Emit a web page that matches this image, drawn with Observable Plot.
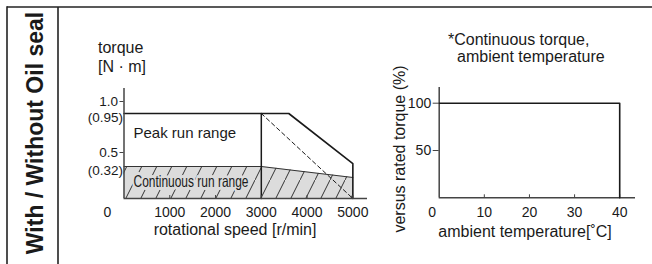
<!DOCTYPE html>
<html><head><meta charset="utf-8">
<script src="https://cdn.jsdelivr.net/npm/d3@7"></script>
<script src="https://cdn.jsdelivr.net/npm/@observablehq/plot@0.6"></script>
<style>
body{margin:0;background:#fff;}
#wrap{position:relative;width:652px;height:264px;overflow:hidden;background:#fff;}
#wrap svg{position:absolute;top:0;}
</style></head><body><div id="wrap"></div>
<script>
// ---- left chart: torque vs rotational speed ----
const speedTicks = [1000, 2000, 3000, 4000, 5000];
const torqueTicks = [0.5, 1.0];
const torqueNotes = [0.95, 0.32];
const peakSpeed = [0, 3600, 5000, 5000];
const peakTorque = [0.95, 0.95, 0.36, 0];
const contSpeed = [0, 3000, 5000];
const contTorque = [0.32, 0.32, 0.21];
const ratedSpeed = [3000, 3000];
const ratedTorque = [0.95, 0];
const dashSpeed = [3000, 5000];
const dashTorque = [0.95, 0];
// ---- right chart: continuous torque vs ambient temperature ----
const tempTicks = [10, 20, 30, 40];
const pctTicks = [50, 100];
const tempVals = [0, 40, 40];
const pctVals = [100, 100, 0];

const FONT = "Liberation Sans, Arial, Helvetica, sans-serif";
const zip = (xs, ys) => xs.map((x, i) => ({x, y: ys[i]}));
const INK = "#1a1a1a", AX = "#444";

// the torque axis of the original is schematic (not linear): piecewise transform
const torqueWarp = d3.scaleLinear().domain([0, 0.32, 0.5, 0.95, 1.0, 1.07]).range([0, 32, 45, 85, 96, 110]);

const left = Plot.plot({
  width: 380, height: 264,
  marginLeft: 123.5, marginRight: 13, marginTop: 88, marginBottom: 66,
  style: {background: "transparent", fontFamily: FONT, color: INK, overflow: "visible"},
  x: {domain: [0, 5320]},
  y: {domain: [0, 110], transform: torqueWarp},
  marks: [
    Plot.areaY(zip(contSpeed, contTorque), {x: "x", y: "y", fill: "url(#hatch)"}),
    Plot.line(zip(contSpeed, contTorque), {x: "x", y: "y", stroke: "#333", strokeWidth: 1}),
    Plot.text(["Continuous run range"], {frameAnchor: "bottom-left", dx: 9.5, dy: -17, textAnchor: "start", lineAnchor: "middle",
      fontSize: 16.5, fill: INK, stroke: "#dcdcdc", strokeWidth: 6, className: "narrow"}),
    Plot.line(zip(dashSpeed, dashTorque), {x: "x", y: "y", stroke: INK, strokeWidth: 1, strokeDasharray: "4,3"}),
    Plot.line(zip(ratedSpeed, ratedTorque), {x: "x", y: "y", stroke: INK, strokeWidth: 1.5}),
    Plot.line(zip(peakSpeed, peakTorque), {x: "x", y: "y", stroke: INK, strokeWidth: 1.6}),
    Plot.text(["Peak run range"], {frameAnchor: "top-left", dx: 9.5, dy: 45, textAnchor: "start", lineAnchor: "middle", fontSize: 15, fill: INK}),
    Plot.ruleX([0], {stroke: AX, strokeWidth: 1.5}),
    Plot.ruleY([0], {stroke: AX, strokeWidth: 1.5}),
    Plot.tickX(speedTicks, {x: d => d, stroke: AX, strokeWidth: 1, insetTop: 107}),
    Plot.axisY(torqueTicks, {label: null, tickSize: 4, tickPadding: 2, dy: -1, fontSize: 13.5, tickFormat: d3.format(".1f"), stroke: AX, fill: INK}),
    Plot.axisY(torqueNotes, {label: null, tickSize: 0, tickPadding: 1, dy: 4, fontSize: 13.5, tickFormat: d => `(${d})`, fill: INK}),
    Plot.axisX(speedTicks, {label: null, tickSize: 0, tickPadding: 9, fontSize: 14, tickFormat: d => String(d), fill: INK}),
    Plot.axisX([0], {label: null, tickSize: 0, tickPadding: 9, dx: -16.5, fontSize: 14, tickFormat: d => String(d), fill: INK})
  ]
});
left.style.left = "0px";

const right = Plot.plot({
  width: 272, height: 264,
  marginLeft: 58.7, marginRight: 17, marginTop: 87, marginBottom: 66.7,
  style: {background: "transparent", fontFamily: FONT, color: INK, overflow: "visible"},
  x: {domain: [0, 43.5]},
  y: {domain: [0, 116.6]},
  marks: [
    Plot.ruleX([0], {stroke: AX, strokeWidth: 1.5}),
    Plot.ruleY([0], {stroke: AX, strokeWidth: 1.5}),
    Plot.tickX(tempTicks, {x: d => d, stroke: AX, strokeWidth: 1, insetTop: 107.3}),
    Plot.line(zip(tempVals, pctVals), {x: "x", y: "y", stroke: INK, strokeWidth: 1.6}),
    Plot.axisY(pctTicks, {label: null, tickSize: 6, tickPadding: 2, fontSize: 14, stroke: AX, fill: INK}),
    Plot.axisX(tempTicks, {label: null, tickSize: 0, tickPadding: 9, fontSize: 14, fill: INK}),
    Plot.axisX([0], {label: null, tickSize: 0, tickPadding: 9, dx: -7, fontSize: 14, fill: INK})
  ]
});
right.style.left = "380px";

// hatch pattern for the continuous run range
const NS = "http://www.w3.org/2000/svg";
const defs = document.createElementNS(NS, "defs");
defs.innerHTML = `<pattern id="hatch" patternUnits="userSpaceOnUse" width="15" height="30">
  <rect width="15" height="30" fill="#dcdcdc"/>
  <line x1="-15" y1="60" x2="30" y2="-30" stroke="#333" stroke-width="1"/>
</pattern>`;
left.insertBefore(defs, left.firstChild);

// overlay: frame lines and free labels
const over = document.createElementNS(NS, "svg");
over.setAttribute("width", 652); over.setAttribute("height", 264);
over.style.left = "0px";
over.innerHTML = `
<g stroke="#222" stroke-width="1.6" fill="none">
  <line x1="7" y1="7" x2="652" y2="7"/>
  <line x1="7" y1="6.2" x2="7" y2="264"/>
  <line x1="58" y1="7" x2="58" y2="264"/>
</g>
<g fill="${INK}" font-family="${FONT}" font-size="16">
  <text x="43" y="133" transform="rotate(-90 43 133)" text-anchor="middle" font-weight="bold" font-size="23">With / Without Oil seal</text>
  <text x="98" y="53">torque</text>
  <text x="98" y="72">[N · m]</text>
  <text x="235" y="235" text-anchor="middle">rotational speed [r/min]</text>
  <text x="448" y="45">*Continuous torque,</text>
  <text x="457" y="62">ambient temperature</text>
  <text x="525" y="237" text-anchor="middle">ambient temperature[˚C]</text>
  <text x="405" y="149" transform="rotate(-90 405 149)" text-anchor="middle">versus rated torque (%)</text>
</g>`;

const wrap = document.getElementById("wrap");
wrap.appendChild(left);
wrap.appendChild(right);
wrap.appendChild(over);

// condensed lettering of the continuous-range label
left.querySelectorAll(".narrow text").forEach(t => {
  t.setAttribute("textLength", 115);
  t.setAttribute("lengthAdjust", "spacingAndGlyphs");
});
</script></body></html>
